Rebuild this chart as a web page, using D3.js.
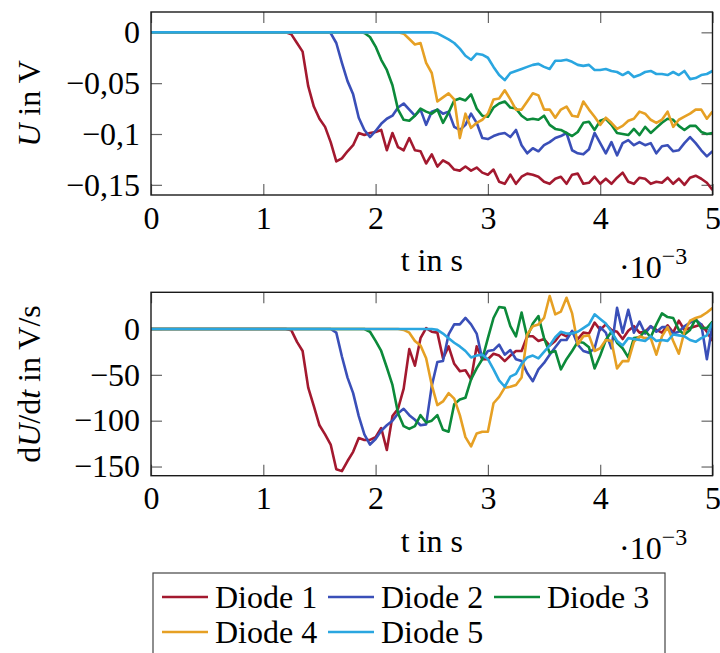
<!DOCTYPE html>
<html>
<head>
<meta charset="utf-8">
<script src="https://cdn.jsdelivr.net/npm/d3@7"></script>
<style>
  body { margin: 0; background: #fff; }
  svg { display: block; }
  text { font-family: "Liberation Serif", "Times New Roman", serif; font-size: 32px; fill: #000; }
</style>
</head>
<body>
<div id="chart"></div>
<script>
// sample times in ms (axis shows them with a 10^-3 multiplier)
var time = [
  0,0.05,0.1,0.15,0.2,0.25,0.3,0.35,0.4,0.45,
  0.5,0.55,0.6,0.65,0.7,0.75,0.8,0.85,0.9,0.95,
  1,1.05,1.1,1.15,1.2,1.25,1.3,1.35,1.4,1.45,
  1.5,1.55,1.6,1.65,1.7,1.75,1.8,1.85,1.9,1.95,
  2,2.05,2.1,2.15,2.2,2.25,2.3,2.35,2.4,2.45,
  2.5,2.55,2.6,2.65,2.7,2.75,2.8,2.85,2.9,2.95,
  3,3.05,3.1,3.15,3.2,3.25,3.3,3.35,3.4,3.45,
  3.5,3.55,3.6,3.65,3.7,3.75,3.8,3.85,3.9,3.95,
  4,4.05,4.1,4.15,4.2,4.25,4.3,4.35,4.4,4.45,
  4.5,4.55,4.6,4.65,4.7,4.75,4.8,4.85,4.9,4.95,
  5
];

var diodeNames = ["Diode 1", "Diode 2", "Diode 3", "Diode 4", "Diode 5"];

// U in V
var diode1U = [
  0,0,0,0,0,0,0,0,0,0,
  0,0,0,0,0,0,0,0,0,0,
  0,0,0,0,0,-0.002,-0.0105,-0.019,-0.053,-0.073,
  -0.085,-0.093,-0.108,-0.127,-0.124,-0.117,-0.111,-0.099,-0.101,-0.099,
  -0.098,-0.096,-0.116,-0.099,-0.113,-0.116,-0.104,-0.116,-0.117,-0.129,
  -0.120,-0.132,-0.126,-0.129,-0.135,-0.136,-0.132,-0.136,-0.133,-0.138,
  -0.140,-0.135,-0.147,-0.149,-0.140,-0.149,-0.142,-0.139,-0.140,-0.142,
  -0.147,-0.149,-0.144,-0.142,-0.149,-0.140,-0.139,-0.149,-0.148,-0.142,
  -0.149,-0.144,-0.149,-0.143,-0.138,-0.147,-0.149,-0.143,-0.144,-0.149,
  -0.147,-0.148,-0.143,-0.149,-0.144,-0.150,-0.143,-0.141,-0.144,-0.148,
  -0.155
];
var diode2U = [
  0,0,0,0,0,0,0,0,0,0,
  0,0,0,0,0,0,0,0,0,0,
  0,0,0,0,0,0,0,0,0,0,
  0,0,-0.0007,-0.0105,-0.030,-0.048,-0.061,-0.084,-0.096,-0.103,
  -0.097,-0.090,-0.085,-0.082,-0.074,-0.070,-0.076,-0.082,-0.076,-0.091,
  -0.078,-0.076,-0.080,-0.078,-0.093,-0.096,-0.091,-0.080,-0.089,-0.104,
  -0.105,-0.102,-0.100,-0.099,-0.103,-0.096,-0.111,-0.119,-0.114,-0.117,
  -0.111,-0.108,-0.104,-0.102,-0.099,-0.116,-0.119,-0.120,-0.115,-0.099,
  -0.109,-0.119,-0.108,-0.121,-0.109,-0.106,-0.111,-0.108,-0.111,-0.109,
  -0.119,-0.112,-0.111,-0.117,-0.116,-0.109,-0.103,-0.109,-0.116,-0.122,
  -0.117
];
var diode3U = [
  0,0,0,0,0,0,0,0,0,0,
  0,0,0,0,0,0,0,0,0,0,
  0,0,0,0,0,0,0,0,0,0,
  0,0,0,0,0,0,0,0,-0.0007,-0.0046,
  -0.014,-0.027,-0.037,-0.052,-0.076,-0.086,-0.087,-0.082,-0.075,-0.078,
  -0.080,-0.076,-0.089,-0.079,-0.067,-0.065,-0.067,-0.061,-0.075,-0.082,
  -0.083,-0.074,-0.070,-0.068,-0.074,-0.075,-0.082,-0.086,-0.085,-0.086,
  -0.082,-0.091,-0.095,-0.096,-0.099,-0.102,-0.098,-0.089,-0.088,-0.096,
  -0.087,-0.085,-0.091,-0.099,-0.100,-0.101,-0.095,-0.101,-0.093,-0.099,
  -0.094,-0.089,-0.085,-0.086,-0.092,-0.096,-0.092,-0.092,-0.098,-0.100,
  -0.099
];
var diode4U = [
  0,0,0,0,0,0,0,0,0,0,
  0,0,0,0,0,0,0,0,0,0,
  0,0,0,0,0,0,0,0,0,0,
  0,0,0,0,0,0,0,0,0,0,
  0,0,0,0,0,-0.0013,-0.0066,-0.012,-0.0105,-0.030,
  -0.040,-0.068,-0.064,-0.060,-0.066,-0.104,-0.080,-0.094,-0.089,-0.086,
  -0.080,-0.066,-0.065,-0.057,-0.066,-0.076,-0.076,-0.068,-0.060,-0.062,
  -0.076,-0.076,-0.084,-0.076,-0.073,-0.082,-0.083,-0.068,-0.076,-0.083,
  -0.091,-0.084,-0.089,-0.095,-0.092,-0.087,-0.085,-0.078,-0.080,-0.086,
  -0.089,-0.086,-0.078,-0.093,-0.086,-0.083,-0.080,-0.076,-0.076,-0.085,
  -0.078
];
var diode5U = [
  0,0,0,0,0,0,0,0,0,0,
  0,0,0,0,0,0,0,0,0,0,
  0,0,0,0,0,0,0,0,0,0,
  0,0,0,0,0,0,0,0,0,0,
  0,0,0,0,0,0,0,0,0,0,
  0,-0.001,-0.004,-0.007,-0.0105,-0.016,-0.023,-0.027,-0.021,-0.022,
  -0.025,-0.034,-0.042,-0.047,-0.040,-0.038,-0.036,-0.034,-0.032,-0.031,
  -0.034,-0.036,-0.028,-0.028,-0.027,-0.029,-0.032,-0.033,-0.032,-0.037,
  -0.037,-0.036,-0.038,-0.039,-0.042,-0.039,-0.044,-0.042,-0.039,-0.038,
  -0.041,-0.041,-0.042,-0.039,-0.042,-0.038,-0.046,-0.045,-0.042,-0.041,
  -0.038
];

// dU/dt in V/s
var diode1dU = [
  0,0,0,0,0,0,0,0,0,0,
  0,0,0,0,0,0,0,0,0,0,
  0,0,0,0,0,-1.5,-14,-24,-64,-84,
  -105,-115,-126,-153,-155,-144,-134,-119,-121,-121,
  -118,-108,-132,-95,-87,-65,-22,-40,-10,1,
  -3,-4,-32,-19,-38,-46,-45,-55,-19,-33,
  -33,-27,-29,-35,-29,-24,-24,-8,-8,-13,
  -11,-18,-13,-5,-8,-3,-11,-4,-5,7,
  -1,5,-1,-3,-11,-2,3,-4,-3,3,
  -1,-4,4,-4,9,-1,1,3,5,-3,
  -13
];
var diode2dU = [
  0,0,0,0,0,0,0,0,0,0,
  0,0,0,0,0,0,0,0,0,0,
  0,0,0,0,0,0,0,0,0,0,
  0,0,0,-4,-30,-53,-70,-95,-115,-126,
  -120,-111,-105,-100,-92,-87,-94,-99,-105,-104,
  -62,-36,-35,-6,5,5,12,5,-5,-33,
  -24,-23,-17,-28,-23,-33,-35,-48,-57,-44,
  -37,-28,-20,-12,-12,-2,-17,-24,-26,-21,
  2,-4,-21,23,-4,21,-4,8,-5,3,
  -3,2,2,-5,-3,3,7,10,5,-33,
  5
];
var diode3dU = [
  0,0,0,0,0,0,0,0,0,0,
  0,0,0,0,0,0,0,0,0,0,
  0,0,0,0,0,0,0,0,0,0,
  0,0,0,0,0,0,0,0,0,-3,
  -13,-24,-42,-61,-92,-106,-109,-106,-94,-102,
  -100,-94,-110,-112,-82,-77,-75,-55,-43,-33,
  -10,12,24,23,3,-8,18,-9,6,14,
  -10,-26,-24,-44,-33,-24,-14,-15,-20,-43,
  -29,-12,-3,-15,-21,-31,-10,-9,-2,-9,
  5,17,13,12,-1,-6,-1,11,1,1,
  8
];
var diode4dU = [
  0,0,0,0,0,0,0,0,0,0,
  0,0,0,0,0,0,0,0,0,0,
  0,0,0,0,0,0,0,0,0,0,
  0,0,0,0,0,0,0,0,0,0,
  0,0,0,0,0,-1,-4,-13,-18,-32,
  -61,-83,-79,-70,-76,-94,-118,-128,-114,-112,
  -112,-81,-74,-64,-63,-61,-53,-6,3,5,
  12,36,16,19,34,17,-17,-8,-7,-24,
  -21,-12,-13,-43,-35,-35,-14,-8,-10,-10,
  -28,-8,2,-13,-27,-3,9,12,14,18,
  23
];
var diode5dU = [
  0,0,0,0,0,0,0,0,0,0,
  0,0,0,0,0,0,0,0,0,0,
  0,0,0,0,0,0,0,0,0,0,
  0,0,0,0,0,0,0,0,0,0,
  0,0,0,0,0,0,0,0,0,0,
  0,-1,-5,-10,-15,-19,-24,-31,-29,-28,
  -33,-44,-56,-63,-52,-49,-38,-31,-29,-32,
  -25,-18,-9,-3,-5,-5,-3,1,5,16,
  11,6,-3,-13,-18,-10,-11,-12,-13,-8,
  -13,-12,-13,-6,-7,-8,-12,-14,-10,-7,
  7
];

// ticks
var xTicks = [0, 1, 2, 3, 4, 5];
var xTickLabels = ["0", "1", "2", "3", "4", "5"];
var uTicks = [0, -0.05, -0.1, -0.15];
var uTickLabels = ["0", "\u22120,05", "\u22120,1", "\u22120,15"];
var dUTicks = [0, -50, -100, -150];
var dUTickLabels = ["0", "\u221250", "\u2212100", "\u2212150"];

var colors = ["#a3192f", "#3a4fb8", "#0c8a3a", "#e6a024", "#2aa6e0"];

var svgWidth = 720;
var svgHeight = 653;
var plotLeft = 151;
var plotRight = 712.5;
var tickLen = 11;

var svg = d3.select("#chart")
  .append("svg")
  .attr("width", svgWidth)
  .attr("height", svgHeight);

svg.append("rect")
  .attr("width", svgWidth)
  .attr("height", svgHeight)
  .attr("fill", "#fff");

var xScale = d3.scaleLinear()
  .domain([0, 5])
  .range([plotLeft, plotRight]);

function styleTicks(g) {
  g.select(".domain").remove();
  g.selectAll(".tick line")
    .attr("stroke", "#666")
    .attr("stroke-width", 1.2);
}

function drawPanel(cfg) {
  var yScale = d3.scaleLinear()
    .domain(cfg.domain)
    .range([cfg.bottom, cfg.top]);

  var g = svg.append("g");

  // inward ticks on all four sides
  g.append("g")
    .attr("transform", `translate(0, ${cfg.bottom})`)
    .call(d3.axisBottom(xScale).tickValues(xTicks)
      .tickFormat(function(d, i) { return xTickLabels[i]; })
      .tickSize(-tickLen).tickPadding(11))
    .call(styleTicks);

  g.append("g")
    .attr("transform", `translate(0, ${cfg.top})`)
    .call(d3.axisTop(xScale).tickValues(xTicks).tickFormat("").tickSize(-tickLen))
    .call(styleTicks);

  g.append("g")
    .attr("transform", `translate(${plotLeft}, 0)`)
    .call(d3.axisLeft(yScale).tickValues(cfg.ticks)
      .tickFormat(function(d, i) { return cfg.tickLabels[i]; })
      .tickSize(-tickLen).tickPadding(11))
    .call(styleTicks);

  g.append("g")
    .attr("transform", `translate(${plotRight}, 0)`)
    .call(d3.axisRight(yScale).tickValues(cfg.ticks).tickFormat("").tickSize(-tickLen))
    .call(styleTicks);

  // clip lines to the plot area
  svg.append("clipPath")
    .attr("id", "clip-" + cfg.name)
    .append("rect")
    .attr("x", plotLeft)
    .attr("y", cfg.top)
    .attr("width", plotRight - plotLeft)
    .attr("height", cfg.bottom - cfg.top);

  var line = d3.line()
    .x(function(d, i) { return xScale(time[i]); })
    .y(function(d) { return yScale(d); });

  cfg.series.forEach(function(values, k) {
    g.append("path")
      .datum(values)
      .attr("d", line)
      .attr("fill", "none")
      .attr("stroke", colors[k])
      .attr("stroke-width", 2.6)
      .attr("stroke-linejoin", "round")
      .attr("clip-path", "url(#clip-" + cfg.name + ")");
  });

  // frame
  g.append("rect")
    .attr("x", plotLeft)
    .attr("y", cfg.top)
    .attr("width", plotRight - plotLeft)
    .attr("height", cfg.bottom - cfg.top)
    .attr("fill", "none")
    .attr("stroke", "#1a1a1a")
    .attr("stroke-width", 1.4);

  // x label and multiplier
  g.append("text")
    .attr("x", (plotLeft + plotRight) / 2)
    .attr("y", cfg.bottom + 76)
    .attr("text-anchor", "middle")
    .text("t in s");

  var mult = g.append("text")
    .attr("x", 619)
    .attr("y", cfg.bottom + 83);
  mult.append("tspan").text("\u00b710");
  mult.append("tspan")
    .attr("dy", -14)
    .style("font-size", "24px")
    .text("\u22123");

  // y label
  var yl = g.append("text")
    .attr("transform", `translate(40, ${(cfg.top + cfg.bottom) / 2}) rotate(-90)`)
    .attr("text-anchor", "middle");
  cfg.yLabel.forEach(function(part) {
    yl.append("tspan")
      .style("font-style", part.italic ? "italic" : "normal")
      .text(part.text);
  });
}

drawPanel({
  name: "u",
  top: 12,
  bottom: 195,
  domain: [-0.16, 0.02],
  ticks: uTicks,
  tickLabels: uTickLabels,
  series: [diode1U, diode2U, diode3U, diode4U, diode5U],
  yLabel: [{text: "U", italic: true}, {text: " in V"}]
});

drawPanel({
  name: "du",
  top: 292.3,
  bottom: 475.7,
  domain: [-160, 40],
  ticks: dUTicks,
  tickLabels: dUTickLabels,
  series: [diode1dU, diode2dU, diode3dU, diode4dU, diode5dU],
  yLabel: [{text: "d"}, {text: "U", italic: true}, {text: "/d"}, {text: "t", italic: true}, {text: " in V/s"}]
});

// legend
var legend = svg.append("g");
legend.append("rect")
  .attr("x", 153)
  .attr("y", 573)
  .attr("width", 512)
  .attr("height", 100)
  .attr("fill", "#fff")
  .attr("stroke", "#444")
  .attr("stroke-width", 1.2);

var legendCols = [162, 328, 494];
var legendRows = [597, 632];

diodeNames.forEach(function(name, k) {
  var lx = legendCols[k % 3];
  var ly = legendRows[Math.floor(k / 3)];
  legend.append("line")
    .attr("x1", lx)
    .attr("x2", lx + 46)
    .attr("y1", ly)
    .attr("y2", ly)
    .attr("stroke", colors[k])
    .attr("stroke-width", 2.6);
  legend.append("text")
    .attr("x", lx + 53)
    .attr("y", ly + 11)
    .text(name);
});
</script>
</body>
</html>
